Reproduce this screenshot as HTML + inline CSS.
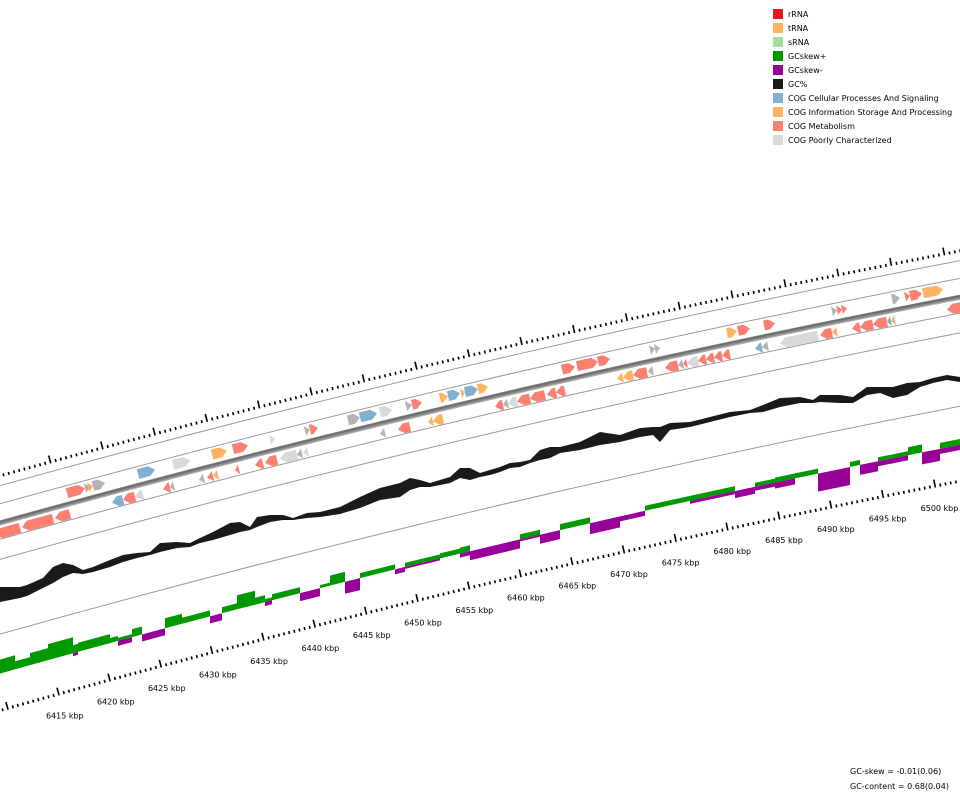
<!DOCTYPE html>
<html><head><meta charset="utf-8"><style>
html,body{margin:0;padding:0;background:#fff;}
svg{display:block;font-family:"DejaVu Sans","Liberation Sans",sans-serif;}
</style></head><body>
<svg id="s" xmlns="http://www.w3.org/2000/svg" width="960" height="800" viewBox="0 0 960 800">
<rect width="960" height="800" fill="#fff"/>
<g id="lg" font-size="8" fill="#000">
<rect x="773" y="9" width="10" height="10" fill="#e0191c"/><text x="788" y="17">rRNA</text>
<rect x="773" y="23" width="10" height="10" fill="#fdb462"/><text x="788" y="31">tRNA</text>
<rect x="773" y="37" width="10" height="10" fill="#a8dc9a"/><text x="788" y="45">sRNA</text>
<rect x="773" y="51" width="10" height="10" fill="#009900"/><text x="788" y="59">GCskew+</text>
<rect x="773" y="65" width="10" height="10" fill="#990099"/><text x="788" y="73">GCskew-</text>
<rect x="773" y="79" width="10" height="10" fill="#1a1a1a"/><text x="788" y="87">GC%</text>
<rect x="773" y="93" width="10" height="10" fill="#80b1d3"/><text x="788" y="101">COG Cellular Processes And Signaling</text>
<rect x="773" y="107" width="10" height="10" fill="#fdb462"/><text x="788" y="115">COG Information Storage And Processing</text>
<rect x="773" y="121" width="10" height="10" fill="#fb8072"/><text x="788" y="129">COG Metabolism</text>
<rect x="773" y="135" width="10" height="10" fill="#d9d9d9"/><text x="788" y="143">COG Poorly Characterized</text>
</g>
<text x="850" y="774" font-size="8">GC-skew = -0.01(0.06)</text>
<text x="850" y="789" font-size="8">GC-content = 0.68(0.04)</text>
<g id="d"></g>
</svg>
<script>
(function(){
var cx=3266,cy=12259,g=document.getElementById("d"),out="";
function P(R,ph){var a=ph*Math.PI/180;return [cx+R*Math.sin(a),cy-R*Math.cos(a)];}
function kphi(k){return -15.5+(k-6415)*0.0506;}
function xphi(x,R){return Math.asin((x-cx)/R)*180/Math.PI;}
function f(p){return p[0].toFixed(1)+","+p[1].toFixed(1);}
function arc(R,col,w){var a=P(R,-16.6),b=P(R,-10.2);
 out+='<path d="M'+f(a)+' A'+R+' '+R+' 0 0 1 '+f(b)+'" fill="none" stroke="'+col+'" stroke-width="'+w+'"/>';}
[12218,12200.5,12166.4,12147,12075].forEach(function(r){arc(r,"#9a9a9a",1);});
arc(12182,"#8c8c8c",5);arc(12183,"#6f6f6f",2);arc(12180,"#b0b0b0",1);
function ruler(R){for(var k=6405;k<=6511;k+=0.5){var ph=kphi(k);var maj=Math.abs(k%5)<1e-6;var L=maj?8:3;
 var a=P(R,ph),b=P(R+L,ph);out+='<line x1="'+a[0].toFixed(1)+'" y1="'+a[1].toFixed(1)+'" x2="'+b[0].toFixed(1)+'" y2="'+b[1].toFixed(1)+'" stroke="#000" stroke-width="1.6"/>';}}
ruler(12226);ruler(12000);
for(var k=6415;k<=6505;k+=5){var p=P(11979,kphi(k));
 out+='<text x="'+p[0].toFixed(1)+'" y="'+(p[1]+3).toFixed(1)+'" font-size="8" text-anchor="middle">'+k+' kbp</text>';}
var gc=[[0,587,602],[20,587,598],[27,585,596],[43,578,588],[53,567,583],[63,563,577],[73,565,573],[83,570,574],[93,567,572],[110,560,567],[123,555,562],[137,553,558],[150,552,555],[160,543,552],[177,542,548],[190,543,547],[200,538,543],[213,532,540],[230,523,535],[240,522,532],[250,527,530],[257,517,527],[270,515,522],[283,515,520],[293,518,520],[307,513,518],[320,512,517],[340,507,514],[360,497,508],[380,488,500],[400,483,497],[410,478,490],[420,480,487],[430,483,487],[440,480,485],[450,477,483],[460,468,478],[470,468,480],[480,473,477],[490,470,475],[500,467,472],[510,463,468],[520,462,467],[530,460,463],[540,450,460],[550,447,458],[560,447,453],[580,442,450],[600,432,445],[620,435,442],[640,428,437],[653,427,435],[660,427,442],[670,423,430],[690,422,427],[710,417,422],[730,412,417],[750,410,413],[763,405,412],[780,398,407],[800,397,403],[813,400,403],[820,395,402],[840,395,403],[853,397,403],[867,387,395],[880,387,393],[893,387,398],[907,383,395],[920,382,387],[933,378,383],[947,375,380],[960,377,382]];
var pts=[];gc.forEach(function(q){pts.push(q[0]+","+q[1]);});
for(var i=gc.length-1;i>=0;i--)pts.push(gc[i][0]+","+gc[i][2]);
out+='<polygon points="'+pts.join(" ")+'" fill="#1a1a1a"/>';
var Rb=12037;function yb(x){return cy-Math.sqrt(Rb*Rb-(x-cx)*(x-cx));}
var sk=[[0,15,14,0],[15,30,8,0],[30,48,12,0],[48,73,16,0],[73,78,8,3],[78,110,9,0],[110,118,5,0],[118,132,3,5],[132,142,8,0],[142,165,0,7],[165,182,10,0],[182,210,6,0],[210,222,0,7],[222,237,6,0],[237,255,14,0],[255,265,7,0],[265,272,3,4],[272,300,6,0],[300,320,0,8],[320,330,3,0],[330,345,10,0],[345,360,0,12],[360,395,5,0],[395,405,0,5],[405,440,4,2],[440,460,5,0],[460,470,6,4],[470,520,0,9],[520,540,5,2],[540,560,0,9],[560,590,6,0],[590,620,0,11],[620,645,0,5],[645,690,5,0],[690,735,5,3],[735,755,0,7],[755,775,4,4],[775,795,5,6],[795,818,5,0],[818,850,0,18],[850,860,5,0],[860,878,0,10],[878,908,4,5],[908,922,8,0],[922,940,0,12],[940,961,6,5]];
sk.forEach(function(s){var a=yb(s[0]),b=yb(s[1]);
 if(s[2]>0)out+='<polygon points="'+s[0]+','+a.toFixed(1)+' '+s[1]+','+b.toFixed(1)+' '+s[1]+','+(b-s[2]).toFixed(1)+' '+s[0]+','+(a-s[2]).toFixed(1)+'" fill="#009900"/>';
 if(s[3]>0)out+='<polygon points="'+s[0]+','+a.toFixed(1)+' '+s[1]+','+b.toFixed(1)+' '+s[1]+','+(b+s[3]).toFixed(1)+' '+s[0]+','+(a+s[3]).toFixed(1)+'" fill="#990099"/>';});
var C={R:"#fb8072",O:"#fdb462",B:"#80b1d3",L:"#d9d9d9",G:"#b3b3b3"};
function gene(x1,x2,st,c){var Rc=st>0?12193:12172,h=5,p1=xphi(x1,Rc),p2=xphi(x2,Rc),hd=6/Rc*180/Math.PI;var ps;
 if(st>0){var m=Math.max(p1,p2-hd);ps=[P(Rc+h,p1),P(Rc+h,m),P(Rc,p2),P(Rc-h,m),P(Rc-h,p1)];}
 else{var m2=Math.min(p2,p1+hd);ps=[P(Rc+h,p2),P(Rc+h,m2),P(Rc,p1),P(Rc-h,m2),P(Rc-h,p2)];}
 out+='<polygon points="'+ps.map(f).join(" ")+'" fill="'+C[c]+'"/>';}
var F=[[67,85,"R"],[85,90,"G"],[88,93,"O"],[93,105,"G"],[138,155,"B"],[173,190,"L"],[212,227,"O"],[233,248,"R"],[270,275,"L"],[305,310,"G"],[310,318,"R"],[348,360,"G"],[360,377,"B"],[380,392,"L"],[406,412,"G"],[412,422,"R"],[440,448,"O"],[448,460,"B"],[461,465,"O"],[465,478,"B"],[478,488,"O"],[562,575,"R"],[577,598,"R"],[598,610,"R"],[650,655,"G"],[655,660,"G"],[727,737,"O"],[738,750,"R"],[764,775,"R"],[832,837,"G"],[837,842,"R"],[842,847,"R"],[892,900,"G"],[905,910,"R"],[910,922,"R"],[923,943,"O"]];
var Rv=[[-5,20,"R"],[22,53,"R"],[55,70,"R"],[112,123,"B"],[123,135,"R"],[135,143,"L"],[163,170,"R"],[170,174,"G"],[199,204,"G"],[207,213,"R"],[213,218,"O"],[235,239,"R"],[255,263,"R"],[265,277,"R"],[280,297,"L"],[297,302,"G"],[303,308,"L"],[380,385,"G"],[398,410,"R"],[428,433,"O"],[433,443,"O"],[495,503,"R"],[503,508,"G"],[508,517,"L"],[517,530,"R"],[530,545,"R"],[547,556,"R"],[556,565,"R"],[617,623,"O"],[623,633,"O"],[633,647,"R"],[648,653,"G"],[665,678,"R"],[678,683,"G"],[683,687,"R"],[687,698,"L"],[698,706,"R"],[706,714,"R"],[714,722,"R"],[722,730,"R"],[755,762,"B"],[762,768,"G"],[780,818,"L"],[820,832,"R"],[832,837,"O"],[852,860,"R"],[860,873,"R"],[873,887,"R"],[887,891,"B"],[891,895,"O"],[947,965,"R"]];
F.forEach(function(q){gene(q[0],q[1],1,q[2]);});
Rv.forEach(function(q){gene(q[0],q[1],-1,q[2]);});
g.innerHTML=out;
})();
</script>
</body></html>
